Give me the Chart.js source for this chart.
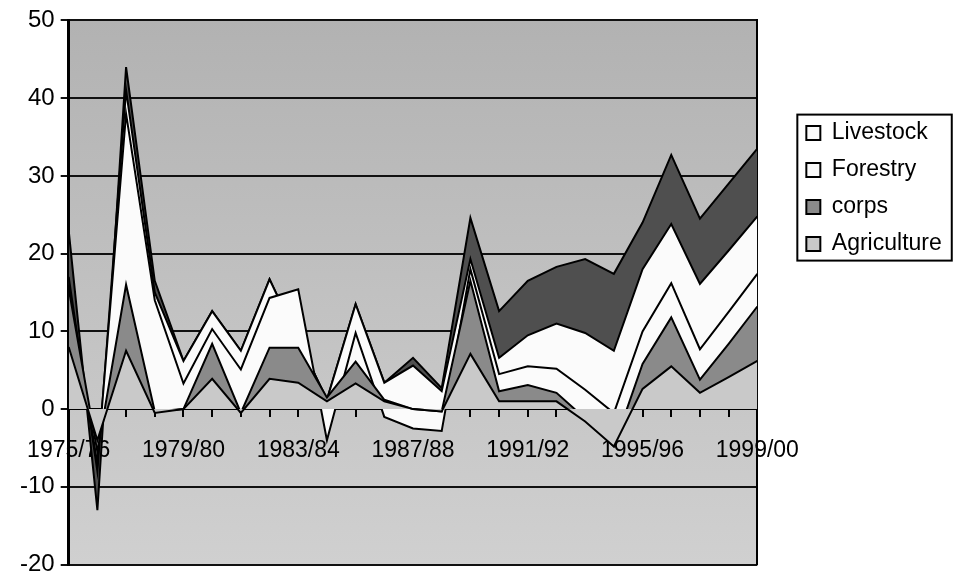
<!DOCTYPE html>
<html>
<head>
<meta charset="utf-8">
<script src="https://cdn.jsdelivr.net/npm/chart.js@4.4.0/dist/chart.umd.min.js"></script>
<style>
  html, body { margin: 0; padding: 0; background: #fff; }
  #wrap { width: 958px; height: 579px; }
</style>
</head>
<body>
<div id="wrap"><canvas id="shareChart"></canvas></div>
<script>
// Years on the category axis (only every 4th one is labelled)
const years = ['1975/76', '1976/77', '1977/78', '1978/79', '1979/80', '1980/81', '1981/82',
  '1982/83', '1983/84', '1984/85', '1985/86', '1986/87', '1987/88', '1988/89', '1989/90',
  '1990/91', '1991/92', '1992/93', '1993/94', '1994/95', '1995/96', '1996/97', '1997/98',
  '1998/99', '1999/00'];

// Stacked contributions (bottom to top)
const agriculture = [8, -4, 7.5, -0.5, 0, 3.9, -0.5, 3.9, 3.4, 1.0, 3.3, 1.0, 0, -0.3, 7.1, 1.0, 1.0, 1.0, -1.6, -4.8, 2.6, 5.5, 2.1, 4.1, 6.2];
const corps = [7.5, -1.5, 8.5, 0.2, 0, 4.5, 0, 4.0, 4.5, 0.5, 2.8, 0.2, 0, 0, 9.4, 1.3, 2.1, 1.1, 0.4, 0, 3.2, 6.3, 1.7, 4.3, 7.0];
const forestry = [0.5, -1.5, 22, 14.3, 3.3, 1.9, 5.6, 6.4, 7.5, -5.5, 3.7, -2.2, -2.5, -2.5, 1.5, 2.2, 2.4, 3.1, 3.7, 4.3, 4.2, 4.4, 3.9, 4.1, 4.2];
const livestock = [1, -1, 3, 1, 2.9, 2.3, 2.4, 2.4, -6.5, 5.2, 3.7, 4.4, 8.1, 5.1, 1.3, 2.1, 4.0, 5.8, 7.3, 8.0, 8.0, 7.6, 8.4, 7.9, 7.4];
// dark top layer, not named in the legend
const other = [6, -5, 3, 1.5, 0, 0, 0, 0, 0, 0, 0, 0, 1.0, 0.4, 5.3, 6.0, 7.0, 7.3, 9.5, 9.9, 6.0, 8.9, 8.4, 8.6, 8.7];

const yTicks = [50, 40, 30, 20, 10, 0, -10, -20];

const font = { family: '"Liberation Sans", Arial, sans-serif', size: 23 };
Chart.defaults.font.family = font.family;
Chart.defaults.color = '#000';

function layer(label, data, color, fill) {
  return {
    label: label,
    data: data,
    backgroundColor: color,
    borderColor: '#000',
    borderWidth: 2,
    pointRadius: 0,
    tension: 0,
    fill: fill
  };
}

// grey plot area behind the stack
const plotBackground = {
  id: 'plotBackground',
  beforeDraw(chart) {
    const { ctx, chartArea: a } = chart;
    const g = ctx.createLinearGradient(0, a.top, 0, a.bottom);
    g.addColorStop(0, '#b2b2b2');
    g.addColorStop(1, '#d0d0d0');
    ctx.save();
    ctx.fillStyle = g;
    ctx.fillRect(a.left, a.top, a.right - a.left, a.bottom - a.top);
    ctx.restore();
  }
};

// box round the legend
const legendBorder = {
  id: 'legendBorder',
  afterDraw(chart) {
    const hb = chart.legend.legendHitBoxes;
    if (!hb || !hb.length) return;
    const l = Math.min(...hb.map(b => b.left));
    const t = Math.min(...hb.map(b => b.top));
    const r = Math.max(...hb.map(b => b.left + b.width));
    const btm = Math.max(...hb.map(b => b.top + b.height));
    const ctx = chart.ctx;
    ctx.save();
    ctx.strokeStyle = '#000';
    ctx.lineWidth = 2;
    ctx.strokeRect(l - 9, t - 7, r - l + 19, btm - t + 12);
    ctx.restore();
  }
};

new Chart(document.getElementById('shareChart'), {
  type: 'line',
  data: {
    labels: years,
    datasets: [
      layer('Agriculture', agriculture, '#c9c9c9', 'origin'),
      layer('corps', corps, '#8a8a8a', '-1'),
      layer('Forestry', forestry, '#fbfbfb', '-1'),
      layer('Livestock', livestock, '#fbfbfb', '-1'),
      layer('', other, '#4f4f4f', '-1')
    ]
  },
  options: {
    responsive: true,
    maintainAspectRatio: false,
    animation: false,
    layout: { padding: { top: 8, left: 14, right: 10, bottom: 0 } },
    plugins: {
      tooltip: { enabled: false },
      legend: {
        position: 'right',
        align: 'start',
        reverse: true,
        title: { display: true, text: ' ', padding: { top: 72, bottom: 0 }, font: font },
        labels: {
          boxWidth: 14,
          boxHeight: 14,
          padding: 14,
          color: '#000',
          font: font,
          filter: item => item.text !== ''
        }
      }
    },
    scales: {
      x: {
        position: { y: 0 },
        offset: false,
        ticks: {
          autoSkip: false,
          maxRotation: 0,
          padding: 21,
          font: font,
          color: '#000',
          callback: (v, i) => (i % 4 === 0 ? years[i] : '')
        },
        grid: { display: true, drawOnChartArea: false, tickLength: 7, color: '#000', lineWidth: 2 },
        border: { display: true, color: '#000', width: 2 }
      },
      y: {
        stacked: 'single',
        min: -20,
        max: 50,
        afterBuildTicks: s => { s.ticks = yTicks.map(v => ({ value: v })); },
        afterFit: s => { s.paddingBottom = Math.max(s.paddingBottom - 6, 0); },
        ticks: { padding: 6, font: { family: font.family, size: 24 }, color: '#000' },
        grid: { color: '#111', lineWidth: 2, tickLength: 8 },
        border: { display: true, color: '#000', width: 3 }
      },
      yPad: {
        position: 'right',
        display: true,
        grid: { display: false },
        ticks: { display: false },
        border: { display: true, color: '#000', width: 2 },
        afterFit: s => { s.width = 35; }
      }
    }
  },
  plugins: [plotBackground, legendBorder]
});
</script>
</body>
</html>
